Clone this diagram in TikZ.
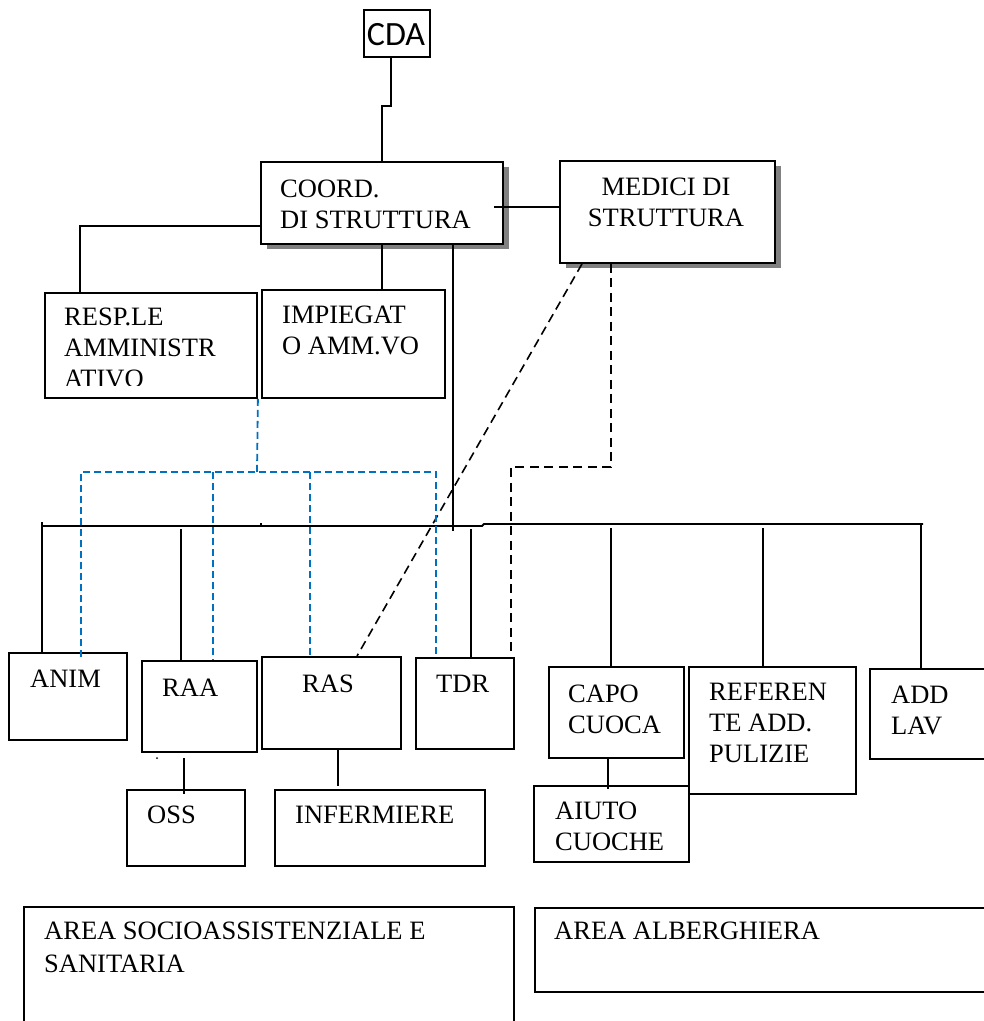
\documentclass[tikz,border=0pt]{standalone}
\usepackage{fontspec}
\setmainfont{Liberation Serif}
\newfontfamily\cdafont{Carlito}
\usetikzlibrary{shadows,calc}
\definecolor{dblue}{RGB}{0,112,192}
\tikzset{
  box/.style={draw, line width=1.9pt, inner sep=0pt, anchor=north west, fill=white},
  sbox/.style={box, general shadow={fill=gray, shadow xshift=6pt, shadow yshift=-5pt}},
  txt/.style={anchor=base west, inner sep=0pt, font=\fontsize{26.5}{31}\selectfont},
  ctxt/.style={txt, anchor=base},
  conn/.style={line width=1.9pt},
  bdash/.style={line width=1.6pt, dash pattern=on 9pt off 5.5pt},
  bluedash/.style={line width=1.8pt, dblue, dash pattern=on 7pt off 4pt}
}
\begin{document}
\begin{tikzpicture}[x=1pt,y=-1pt]
\useasboundingbox (0,0) rectangle (984,1021);
\clip (0,0) rectangle (984,1021);
% ---------- boxes ----------
\node[box, minimum width=66pt, minimum height=47pt] (cda) at (363,9) {};
\node[sbox, minimum width=242pt, minimum height=82pt] (coord) at (260,161) {};
\node[sbox, minimum width=215pt, minimum height=102pt] (medici) at (559,160) {};
\node[box, minimum width=212pt, minimum height=105pt] (resp) at (44,292) {};
\node[box, minimum width=183pt, minimum height=108pt] (imp) at (261,289) {};
\node[box, minimum width=118pt, minimum height=87pt] (anim) at (8,652) {};
\node[box, minimum width=115pt, minimum height=91pt] (raa) at (141,660) {};
\node[box, minimum width=139pt, minimum height=92pt] (ras) at (261,656) {};
\node[box, minimum width=98pt, minimum height=91pt] (tdr) at (415,657) {};
\node[box, minimum width=135pt, minimum height=91pt] (capo) at (548,666) {};
\node[box, minimum width=167pt, minimum height=127pt] (ref) at (688,666) {};
\node[box, minimum width=140pt, minimum height=90pt] (add) at (869,668) {};
\node[box, minimum width=118pt, minimum height=76pt] (oss) at (126,789) {};
\node[box, minimum width=210pt, minimum height=76pt] (inf) at (274,789) {};
\node[box, minimum width=155pt, minimum height=76pt] (aiuto) at (533,785) {};
\node[box, line width=1.5pt, minimum width=490pt, minimum height=140pt] (area1) at (23,906) {};
\node[box, line width=1.5pt, minimum width=470pt, minimum height=84pt] (area2) at (534,907) {};
% ---------- texts ----------
\node[anchor=base, inner sep=0pt, font=\cdafont\fontsize{34}{38}\selectfont] (cdat) at (396,45) {CDA};
\node[txt] (coordt) at (280,197) {\vtop{\hbox{COORD.}\hbox{DI STRUTTURA}}};
\node[ctxt] (medicit) at (666,195) {\vtop{\hbox{\makebox[0pt]{MEDICI DI}}\hbox{\makebox[0pt]{STRUTTURA}}}};
\begin{scope}
  \clip (44,292) rectangle (256,385);
  \node[txt] (respt) at (64,325) {\vtop{\hbox{RESP.LE}\hbox{AMMINISTR}\hbox{ATIVO}}};
\end{scope}
\node[txt] (impt) at (282,323) {\vtop{\hbox{IMPIEGAT}\hbox{O AMM.VO}}};
\node[txt] (animt) at (30,687) {ANIM};
\node[txt] (raat) at (162,696) {RAA};
\node[txt] (rast) at (302,692) {RAS};
\node[txt] (tdrt) at (436,692) {TDR};
\node[txt] (capot) at (568,702) {\vtop{\hbox{CAPO}\hbox{CUOCA}}};
\node[txt] (reft) at (709,700) {\vtop{\hbox{REFEREN}\hbox{TE ADD.}\hbox{PULIZIE}}};
\node[txt] (addt) at (891,703) {\vtop{\hbox{ADD}\hbox{LAV}}};
\node[txt] (osst) at (147,823) {OSS};
\node[txt] (inft) at (295,823) {INFERMIERE};
\node[txt] (aiutot) at (555,819) {\vtop{\hbox{AIUTO}\hbox{CUOCHE}}};
\node[txt, font=\fontsize{26.5}{33}\selectfont] (area1t) at (44,939) {\vtop{\hbox{AREA SOCIOASSISTENZIALE E}\hbox{SANITARIA}}};
\node[txt] (area2t) at (554,939) {AREA ALBERGHIERA};
% ---------- solid connectors ----------
\draw[conn] (391,0 |- cda.south) -- (391,106) -- (382,106) -- (382,0 |- coord.north);
\draw[conn] ($(coord.east |- 0,207)+(-10,0)$) -- (medici.west |- 0,207);
\draw[conn] (coord.west |- 0,226) -- (80,226) -- (80,0 |- resp.north);
\draw[conn] (382,0 |- coord.south) -- (382,0 |- imp.north);
\coordinate (busjoin) at (453,531);
\draw[conn] (453,0 |- coord.south) -- (busjoin);
\coordinate (busL) at (41,526);
\coordinate (busR) at (923,524);
\draw[conn] (busL) -- (482,526) -- (484,524) -- (busR);
\draw[conn] (261,523) -- (261,527);
\draw[conn] (42,522) -- (42,0 |- anim.north);
\draw[conn] (181,529) -- (181,0 |- raa.north);
\draw[conn] (471,529) -- (471,0 |- tdr.north);
\draw[conn] (611,528) -- (611,0 |- capo.north);
\draw[conn] (763,528) -- (763,0 |- ref.north);
\draw[conn] (921,524) -- (921,0 |- add.north);
\draw[conn] (184,758) -- ($(184,0 |- oss.north)+(0,5)$);
\fill (157,758) circle (1);
\draw[conn] (338,0 |- ras.south) -- ($(338,0 |- inf.north)+(0,-3)$);
\draw[conn] (608,0 |- capo.south) -- ($(608,0 |- aiuto.north)+(0,4)$);
% ---------- dashed connectors ----------
\draw[bdash] (582,0 |- medici.south) -- (357,0 |- ras.north);
\draw[bdash] (611,0 |- medici.south) -- (611,467) -- (511,467) -- (511,0 |- tdr.north);
\draw[bluedash] (resp.south east) -- (257,472);
\draw[bluedash] ($(81,0 |- anim.north)+(0,5)$) -- (81,472) -- (436,472) -- (436,0 |- tdr.north);
\draw[bluedash] (213,472) -- (213,0 |- raa.north);
\draw[bluedash] (310,472) -- (310,0 |- ras.north);
\end{tikzpicture}
\end{document}
